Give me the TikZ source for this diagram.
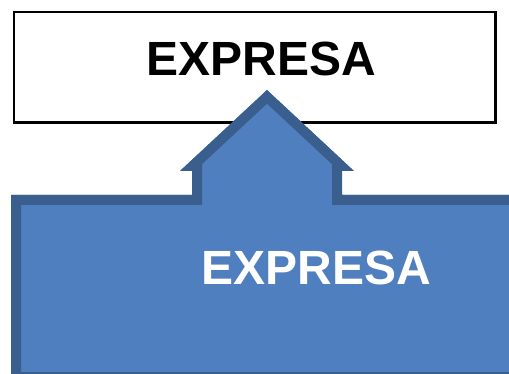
\documentclass[tikz,border=0pt]{standalone}
\usepackage{fontspec}
\setmainfont{Liberation Sans}
\definecolor{boxblue}{HTML}{4F7FBE}
\definecolor{edgeblue}{HTML}{3A5E8E}
\tikzset{
  label/.style={font=\bfseries\fontsize{48}{48}\selectfont, inner sep=0pt},
}
\begin{document}
\begin{tikzpicture}[x=1pt, y=-1pt]
          \clip (0,0) rectangle (509,374);
          \fill[white] (0,0) rectangle (509,374);
          % upper box
          \draw[line width=2.6pt, fill=white] (14,12) rectangle (495.5,122.5);
          \node[label, text=black] (top) at (261,58.5) {EXPRESA};
          % arrow shape with inner border
          \begin{scope}
            \clip (11,382) -- (11,195) -- (192,195) -- (192,171) -- (180,171) -- (267,90)
              -- (354,171) -- (342,171) -- (342,195) -- (530,195) -- (530,382) -- cycle;
            \fill[boxblue] (11,382) -- (11,195) -- (192,195) -- (192,171) -- (180,171) -- (267,90)
              -- (354,171) -- (342,171) -- (342,195) -- (530,195) -- (530,382) -- cycle;
            \draw[edgeblue, line width=20pt] (11,382) -- (11,195) -- (192,195) -- (192,171) -- (180,171) -- (267,90)
              -- (354,171) -- (342,171) -- (342,195) -- (530,195) -- (530,382) -- cycle;
          \end{scope}
          \node[label, text=white] (bottom) at (316,268) {EXPRESA};
        \end{tikzpicture}
\end{document}
